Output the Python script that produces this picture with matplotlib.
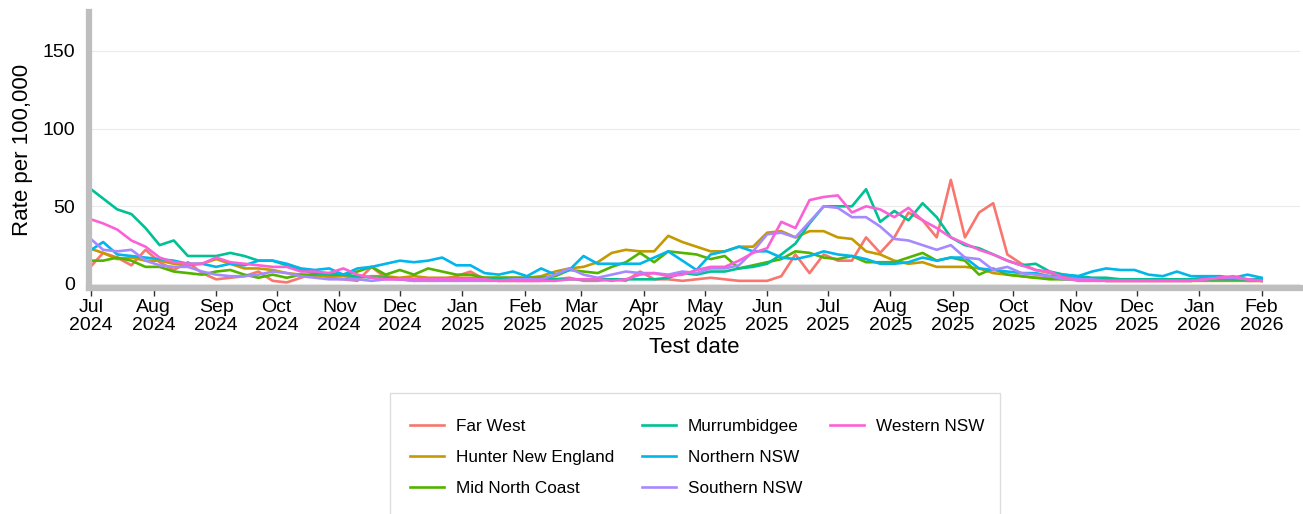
import matplotlib
matplotlib.use("Agg")
import matplotlib.pyplot as plt
from matplotlib.lines import Line2D
from matplotlib.patches import Rectangle
import numpy as np
import pandas as pd

plt.rcParams['font.family'] = ['Liberation Sans', 'DejaVu Sans']

dates = pd.date_range("2024-06-30", periods=84, freq="7D")

far_west = [10, 20, 17, 12, 22, 14, 9, 14, 7, 3, 4, 5, 8, 2, 1, 4, 7, 4, 3, 2,
            11, 4, 3, 2, 3, 3, 5, 8, 3, 2, 2, 2, 2, 3, 4, 2, 2, 3, 2, 8,
            3, 3, 2, 3, 4, 3, 2, 2, 2, 5, 19, 7, 19, 15, 15, 30, 20, 30, 46, 41,
            30, 67, 30, 46, 52, 19, 13, 9, 7, 5, 4, 3, 2, 2, 2, 2, 2, 2, 2, 3,
            4, 3, 2, 2]
hunter_new_england = [23, 20, 16, 17, 15, 15, 13, 12, 13, 16, 13, 10, 10, 9, 7, 6, 5, 5, 5, 4,
                      5, 5, 4, 5, 4, 4, 4, 4, 4, 4, 4, 4, 5, 8, 10, 11, 14, 20, 22, 21,
                      21, 31, 27, 24, 21, 21, 24, 24, 33, 34, 30, 34, 34, 30, 29, 21, 19, 15, 13, 14,
                      11, 11, 11, 10, 7, 6, 5, 4, 4, 3, 3, 3, 2, 2, 2, 2, 2, 2, 2, 2,
                      2, 2, 2, 2]
mid_north_coast = [15, 15, 17, 15, 11, 11, 8, 7, 6, 8, 9, 6, 4, 6, 4, 6, 6, 7, 6, 8,
                   11, 6, 9, 6, 10, 8, 6, 6, 4, 4, 4, 4, 4, 5, 9, 8, 7, 11, 14, 20,
                   14, 21, 20, 19, 16, 18, 10, 12, 14, 16, 21, 20, 17, 16, 18, 14, 14, 14, 17, 20,
                   15, 17, 15, 6, 10, 6, 5, 4, 3, 3, 3, 3, 3, 3, 3, 3, 3, 3, 3, 4,
                   5, 3, 3, 2]
murrumbidgee = [62, 55, 48, 45, 36, 25, 28, 18, 18, 18, 20, 18, 15, 15, 12, 9, 7, 6, 6, 5,
                4, 4, 3, 3, 3, 3, 3, 3, 3, 3, 3, 3, 3, 3, 3, 3, 3, 3, 3, 3,
                3, 4, 7, 6, 8, 8, 10, 11, 13, 19, 26, 39, 50, 50, 50, 61, 40, 47, 41, 52,
                43, 30, 25, 23, 19, 15, 12, 13, 8, 6, 5, 4, 4, 3, 3, 3, 3, 3, 3, 3,
                3, 3, 3, 3]
northern_nsw = [21, 27, 19, 18, 17, 16, 15, 13, 13, 11, 13, 12, 15, 15, 13, 10, 9, 10, 6, 10,
                11, 13, 15, 14, 15, 17, 12, 12, 7, 6, 8, 5, 10, 6, 9, 18, 13, 13, 13, 13,
                17, 21, 15, 9, 19, 21, 24, 21, 21, 17, 16, 18, 21, 19, 18, 16, 13, 13, 14, 17,
                15, 17, 17, 10, 9, 8, 7, 7, 5, 6, 5, 8, 10, 9, 9, 6, 5, 8, 5, 5,
                5, 4, 6, 4]
southern_nsw = [30, 22, 21, 22, 15, 12, 11, 11, 8, 6, 5, 5, 6, 8, 7, 5, 4, 3, 3, 3,
                2, 3, 3, 2, 2, 2, 2, 2, 2, 2, 3, 3, 3, 6, 10, 6, 4, 6, 8, 7,
                7, 6, 8, 7, 10, 10, 12, 21, 32, 33, 30, 40, 50, 49, 43, 43, 37, 29, 28, 25,
                22, 25, 17, 16, 9, 11, 7, 6, 5, 3, 3, 3, 2, 2, 2, 2, 2, 2, 2, 3,
                4, 4, 3, 2]
western_nsw = [42, 39, 35, 28, 24, 17, 14, 13, 13, 17, 14, 13, 12, 11, 11, 8, 8, 7, 10, 6,
               4, 3, 3, 3, 3, 3, 3, 3, 3, 2, 2, 2, 2, 2, 3, 3, 3, 2, 3, 6,
               7, 5, 6, 9, 11, 11, 15, 20, 23, 40, 36, 54, 56, 57, 46, 50, 48, 43, 49, 41,
               36, 30, 26, 22, 19, 15, 12, 9, 8, 4, 2, 2, 2, 2, 2, 2, 2, 2, 2, 3,
               4, 5, 3, 2]

series_names = ["Far West", "Hunter New England", "Mid North Coast", "Murrumbidgee",
                "Northern NSW", "Southern NSW", "Western NSW"]
series_values = [far_west, hunter_new_england, mid_north_coast, murrumbidgee,
                 northern_nsw, southern_nsw, western_nsw]
colors = ["#F8766D", "#C49A00", "#53B400", "#00C094", "#00B6EB", "#A58AFF", "#FB61D7"]

y_ticks = [0, 50, 100, 150]

W, H = 1303, 514
fig = plt.figure(figsize=(W / 100, H / 100), dpi=100)
ax = fig.add_axes([89/W, 1 - 288/H, (1300 - 89)/W, (288 - 12)/H])

handles = []
for name, vals, c in zip(series_names, series_values, colors):
    h, = ax.plot(dates, vals, color=c, lw=1.9, label=name)
    handles.append(h)

ax.set_xlim(pd.Timestamp("2024-06-30"), pd.Timestamp("2026-02-20"))
ax.set_ylim(-2.6, 175.1)
ax.set_yticks(y_ticks)
ax.yaxis.grid(True, color="#EBEBEB", lw=0.8)
ax.set_axisbelow(True)

ticks = pd.date_range("2024-07-01", "2026-02-01", freq="MS")
ax.set_xticks(ticks)
ax.set_xticklabels([d.strftime("%b\n%Y") for d in ticks])

for s in ["top", "right"]:
    ax.spines[s].set_visible(False)
for s in ["left", "bottom"]:
    ax.spines[s].set_color("#BEBEBE")
    ax.spines[s].set_linewidth(4.5)

ax.tick_params(axis="x", length=6, width=1, color="#333333", labelsize=14, pad=2, labelcolor="black")
ax.tick_params(axis="y", length=0, labelsize=14, pad=10, labelcolor="black")
for lab in ax.get_xticklabels():
    lab.set_linespacing(1.05)

ax.set_ylabel("Rate per 100,000", fontsize=16, labelpad=7)
ax.set_xlabel("Test date", fontsize=16, labelpad=2)

# legend frame drawn separately (extends past figure bottom like the reference)
fig.patches.append(Rectangle((390/W, 1 - 530/H), 610/W, 137/H, transform=fig.transFigure,
                             facecolor="white", edgecolor="#DDDDDD", lw=1.0, zorder=0))

blank = Line2D([], [], color="none")
leg_handles = handles + [blank, blank]
leg_labels = series_names + ["", ""]
leg = fig.legend(leg_handles, leg_labels, loc="upper center",
                 bbox_to_anchor=(697/W, 1 - 419/H), ncol=3,
                 fontsize=12.3, frameon=False,
                 borderpad=0, borderaxespad=0, labelspacing=0.95, handlelength=2.0,
                 handletextpad=0.7, columnspacing=1.6)

fig.savefig("out.png", dpi=100)
